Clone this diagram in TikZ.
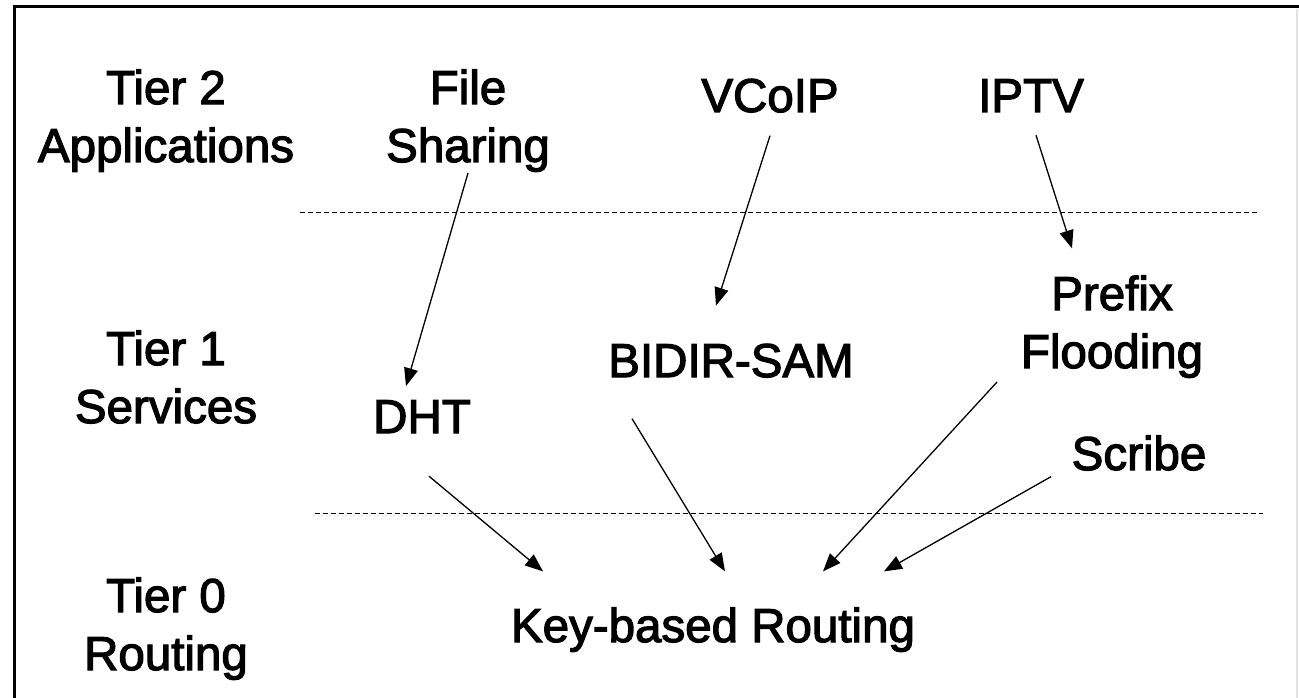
\documentclass[tikz,border=0pt]{standalone}
\usepackage{fontspec}
\setmainfont{Liberation Sans}
\newfontfamily\heavyfont{Liberation Sans}[FakeBold=2.5]
\usepackage{tikz}
\usetikzlibrary{arrows.meta,calc}
\definecolor{edgeGray}{RGB}{226,226,226}
\tikzset{
  tier/.style={inner sep=0pt, align=center, anchor=base, font=\heavyfont\fontsize{47.5}{58}\selectfont},
  item/.style={inner sep=0pt, align=center, anchor=base, font=\heavyfont\fontsize{47.5}{58}\selectfont},
  arrow/.style={-{Triangle[length=18pt,width=14pt]}, line width=1.3pt},
  divider/.style={line width=1pt, dash pattern=on 5pt off 3pt},
  frame/.style={line width=3pt}
}

\begin{document}
\begin{tikzpicture}[x=1pt,y=-1pt]
  \useasboundingbox (0,0) rectangle (1299,698);
  \draw[frame] (14,698) -- (14,7) -- (1299,7);
  \draw[edgeGray, line width=1.5pt] (1297,9) -- (1297,698);

  % left column, base = last line
  \node[tier] (t2) at (166,162) {Tier 2\\Applications};
  \node[tier] (t1) at (166,423) {Tier 1\\Services};
  \node[tier] (t0) at (166,670) {Tier 0\\Routing};

  \node[item] (fs) at (468,162) {File\\Sharing};
  \node[item] (vcoip) at (770,112) {VCoIP};
  \node[item] (iptv) at (1031,112) {IPTV};
  \node[item] (prefix) at (1112,368) {Prefix\\Flooding};
  \node[item] (bidir) at (731,377) {BIDIR-SAM};
  \node[item] (dht) at (422,433) {DHT};
  \node[item] (scribe) at (1139,470) {Scribe};
  \node[item] (kbr) at (713,642) {Key-based Routing};

  \draw[divider] (300,212) -- (1259,212);
  \draw[divider] (315,513) -- (1263,513);

  \draw[arrow] ($(fs.south)+(0,1)$) -- ($(dht.north)+(-16,-14)$);
  \draw[arrow] ($(vcoip.south)+(0,23)$) -- ($(bidir.north)+(-15,-38)$);
  \draw[arrow] ($(iptv.south)+(5,23)$) -- ($(prefix.north)+(-40,-27)$);
  \draw[arrow] ($(dht.south)+(7,43)$) -- ($(kbr.north)+(-170,-36)$);
  \draw[arrow] ($(bidir.south)+(-99,41)$) -- ($(kbr.north)+(12,-36)$);
  \draw[arrow] ($(prefix.south)+(-115,4)$) -- ($(kbr.north)+(110,-36)$);
  \draw[arrow] ($(scribe.south)+(-88,6)$) -- ($(kbr.north)+(171,-36)$);
\end{tikzpicture}
\end{document}
